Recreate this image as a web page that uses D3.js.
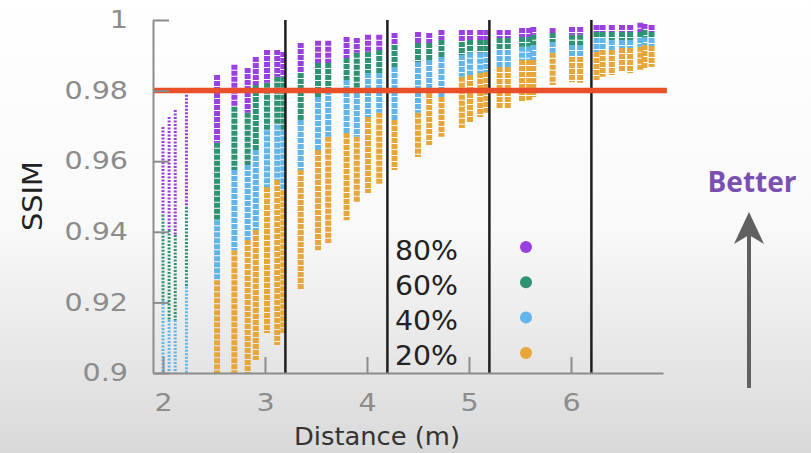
<!DOCTYPE html>
<html><head><meta charset="utf-8">
<script src="https://cdn.jsdelivr.net/npm/d3@7"></script>
<style>html,body{margin:0;padding:0;overflow:hidden;background:#fff;} svg{display:block;}</style>
</head><body><svg id="c" width="811" height="453"></svg>
<script>
// ---- data ----
const distances = [2.00, 2.06, 2.12, 2.23, 2.53, 2.70, 2.83, 2.91, 3.02, 3.12, 3.18, 3.35, 3.52, 3.62, 3.80, 3.90, 4.01, 4.12, 4.27, 4.50, 4.61, 4.73, 4.93, 5.01, 5.11, 5.17, 5.30, 5.38, 5.52, 5.59, 5.63, 5.82, 6.01, 6.09, 6.25, 6.31, 6.40, 6.50, 6.58, 6.68, 6.72, 6.79];
// highest SSIM of each column (80% series top)
const top80 = [0.9697, 0.9725, 0.9745, 0.9788, 0.9844, 0.9873, 0.9864, 0.9895, 0.9915, 0.9915, 0.9909, 0.9935, 0.9941, 0.9941, 0.9952, 0.9949, 0.9958, 0.9958, 0.9963, 0.9966, 0.9963, 0.9972, 0.9972, 0.9972, 0.9972, 0.9972, 0.9972, 0.9972, 0.9977, 0.9977, 0.9980, 0.9977, 0.9980, 0.9980, 0.9986, 0.9986, 0.9986, 0.9986, 0.9986, 0.9992, 0.9989, 0.9986];
// lowest SSIM of each series per column
const low80 = [0.9448, 0.9405, 0.9391, 0.9470, 0.9652, 0.9754, 0.9737, 0.9816, 0.9822, 0.9839, 0.9839, 0.9850, 0.9878, 0.9878, 0.9892, 0.9907, 0.9909, 0.9915, 0.9929, 0.9935, 0.9935, 0.9943, 0.9938, 0.9943, 0.9943, 0.9943, 0.9949, 0.9949, 0.9952, 0.9952, 0.9958, 0.9963, 0.9958, 0.9958, 0.9966, 0.9966, 0.9966, 0.9966, 0.9966, 0.9966, 0.9972, 0.9966];
const low60 = [0.9207, 0.9150, 0.9150, 0.9244, 0.9433, 0.9575, 0.9589, 0.9632, 0.9688, 0.9703, 0.9688, 0.9717, 0.9782, 0.9802, 0.9830, 0.9793, 0.9850, 0.9850, 0.9867, 0.9881, 0.9887, 0.9895, 0.9901, 0.9907, 0.9907, 0.9909, 0.9915, 0.9915, 0.9924, 0.9924, 0.9929, 0.9938, 0.9929, 0.9929, 0.9949, 0.9949, 0.9943, 0.9943, 0.9943, 0.9949, 0.9952, 0.9949];
const low40 = [0.9000, 0.9000, 0.9000, 0.9000, 0.9263, 0.9348, 0.9377, 0.9405, 0.9527, 0.9547, 0.9518, 0.9575, 0.9632, 0.9669, 0.9680, 0.9669, 0.9725, 0.9737, 0.9717, 0.9737, 0.9793, 0.9782, 0.9839, 0.9844, 0.9850, 0.9853, 0.9867, 0.9867, 0.9887, 0.9887, 0.9887, 0.9907, 0.9895, 0.9895, 0.9909, 0.9915, 0.9915, 0.9921, 0.9921, 0.9924, 0.9929, 0.9926];
const low20 = [null, null, null, null, 0.9000, 0.9000, 0.9000, 0.9037, 0.9113, 0.9079, 0.9113, 0.9235, 0.9348, 0.9368, 0.9433, 0.9484, 0.9510, 0.9533, 0.9575, 0.9612, 0.9646, 0.9669, 0.9694, 0.9708, 0.9725, 0.9737, 0.9751, 0.9751, 0.9768, 0.9773, 0.9782, 0.9816, 0.9824, 0.9822, 0.9830, 0.9839, 0.9844, 0.9853, 0.9850, 0.9858, 0.9864, 0.9867];

const seriesNames = ["80%", "60%", "40%", "20%"];
const seriesColors = ["#9a3fe0", "#2f9274", "#62b5e8", "#e6a63a"];
const xTicks = [2, 3, 4, 5, 6];
const yTicks = [0.9, 0.92, 0.94, 0.96, 0.98, 1];
const thresholdSSIM = 0.98;
const dividerDistances = [3.2, 4.2, 5.2, 6.2];

// ---- drawing ----
const svg = d3.select("#c");
const W = 811, H = 453;
const x = d3.scaleLinear().domain([1.902, 6.902]).range([153, 663]);
const y = d3.scaleLinear().domain([0.9, 1]).range([373, 20]);
const FONT = "'DejaVu Sans', Verdana, sans-serif";

const defs = svg.append("defs");
const bg = defs.append("linearGradient").attr("id", "bg").attr("x1", 0).attr("y1", 0).attr("x2", 0).attr("y2", 1);
bg.append("stop").attr("offset", "0").attr("stop-color", "#ffffff");
bg.append("stop").attr("offset", "0.5").attr("stop-color", "#f9f9f9");
bg.append("stop").attr("offset", "1").attr("stop-color", "#d9d9d9");
defs.append("clipPath").attr("id", "plot").append("rect")
  .attr("x", 150).attr("y", y(1) - 2).attr("width", 520).attr("height", y(0.9) - y(1) + 2);

svg.append("rect").attr("width", W).attr("height", H).attr("fill", "url(#bg)");

// column segments
const segs = [];
distances.forEach((d, i) => {
  const bounds = [top80[i], low80[i], low60[i], low40[i], low20[i]];
  for (let s = 3; s >= 0; s--) {
    const hi = bounds[s], lo = bounds[s + 1];
    if (lo == null || hi == null) continue;
    segs.push({d, s, hi, lo});
  }
});
svg.append("g").attr("clip-path", "url(#plot)")
  .selectAll("line").data(segs).join("line")
  .attr("x1", p => x(p.d)).attr("x2", p => x(p.d))
  .attr("y1", p => y(p.hi)).attr("y2", p => y(p.lo))
  .attr("stroke", p => seriesColors[p.s])
  .attr("stroke-width", p => p.d < 2.4 ? 3 : 6)
  .attr("stroke-dasharray", p => p.d < 2.4 ? "2,1.5" : "5,1");

// divider lines
svg.append("g").selectAll("line").data(dividerDistances).join("line")
  .attr("x1", d => x(d)).attr("x2", d => x(d))
  .attr("y1", y(1)).attr("y2", y(0.9))
  .attr("stroke", "#1e1e1e").attr("stroke-width", 2.5);

// threshold line
svg.append("line")
  .attr("x1", x(1.902)).attr("x2", x(6.94))
  .attr("y1", y(thresholdSSIM)).attr("y2", y(thresholdSSIM))
  .attr("stroke", "#e9502a").attr("stroke-width", 5.5);

function stretch(sel, k) {
  sel.each(function () {
    const len = this.getComputedTextLength();
    d3.select(this).attr("textLength", len * k).attr("lengthAdjust", "spacingAndGlyphs");
  });
}

// axes
const yAxis = svg.append("g").attr("transform", `translate(${x(1.902)},0)`)
  .call(d3.axisLeft(y).tickValues(yTicks).tickSizeInner(-16).tickSizeOuter(0).tickPadding(25)
    .tickFormat(d => String(+d.toFixed(2))));
const xAxis = svg.append("g").attr("transform", `translate(0,${y(0.9)})`)
  .call(d3.axisBottom(x).tickValues(xTicks).tickSizeInner(-16).tickSizeOuter(0).tickPadding(21)
    .tickFormat(d3.format("d")));
[yAxis, xAxis].forEach(g => {
  g.select(".domain").attr("stroke", "#8c8c8c").attr("stroke-width", 2);
  g.selectAll(".tick line").attr("stroke", "#8c8c8c").attr("stroke-width", 2);
  g.selectAll(".tick text").attr("fill", "#8c8c8c").style("font-family", FONT).style("font-size", "24px");
});
stretch(yAxis.selectAll(".tick text"), 1.19);
stretch(xAxis.selectAll(".tick text"), 1.19);

// axis titles
svg.append("text").attr("x", 377).attr("y", 445).attr("text-anchor", "middle")
  .attr("fill", "#333").style("font-family", FONT).style("font-size", "24px")
  .attr("textLength", 166).attr("lengthAdjust", "spacingAndGlyphs")
  .text("Distance (m)");
svg.append("text").attr("transform", "translate(42,196) rotate(-90)").attr("text-anchor", "middle")
  .attr("fill", "#222").style("font-family", FONT).style("font-size", "26px")
  .attr("textLength", 70).attr("lengthAdjust", "spacingAndGlyphs")
  .text("SSIM");

// legend
const leg = svg.append("g");
seriesNames.forEach((n, i) => {
  leg.append("text").attr("x", 395).attr("y", 260 + i * 35)
    .attr("fill", "#222").style("font-family", FONT).style("font-size", "26px")
    .attr("textLength", 63).attr("lengthAdjust", "spacingAndGlyphs").text(n);
  leg.append("circle").attr("cx", 526).attr("cy", 247 + i * 35.3).attr("r", 6)
    .attr("fill", seriesColors[i]);
});

// "Better" annotation
svg.append("text").attr("x", 752).attr("y", 192).attr("text-anchor", "middle")
  .attr("fill", "#7a4fb3").style("font-family", "'Open Sans', sans-serif").style("font-weight", "bold")
  .style("font-size", "28px").attr("textLength", 89).attr("lengthAdjust", "spacingAndGlyphs")
  .text("Better");
svg.append("line").attr("x1", 749).attr("x2", 749).attr("y1", 388).attr("y2", 232)
  .attr("stroke", "#606060").attr("stroke-width", 4);
svg.append("path").attr("d", "M749,212 L764,244 L749,235 L734,244 Z").attr("fill", "#606060");
</script>
</body></html>
